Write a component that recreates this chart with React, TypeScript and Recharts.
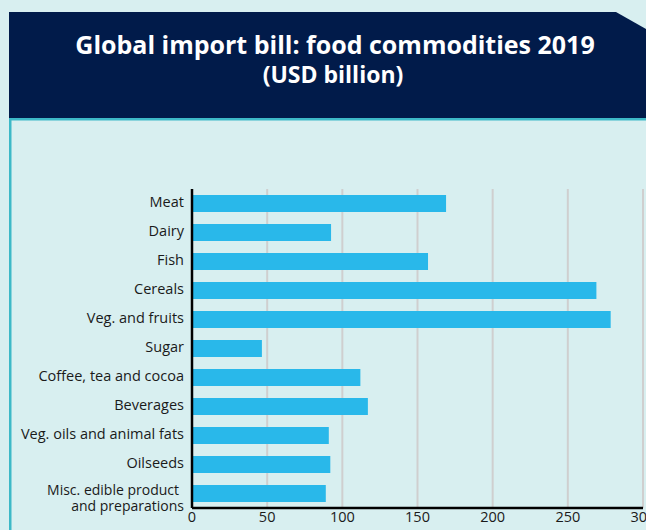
import React from "react";
import { BarChart, Bar, XAxis, YAxis, CartesianGrid } from "recharts";

const categories = [
  "Meat",
  "Dairy",
  "Fish",
  "Cereals",
  "Veg. and fruits",
  "Sugar",
  "Coffee, tea and cocoa",
  "Beverages",
  "Veg. oils and animal fats",
  "Oilseeds",
  "Misc. edible product\nand preparations",
];
const importBill = [169, 92.5, 157, 269, 278.5, 46.5, 112, 117, 91, 92, 89];
const xTicks = [0, 50, 100, 150, 200, 250, 300];

const data = categories.map((name, i) => ({ name, value: importBill[i] }));

const BG = "#D8EFF0";
const NAVY = "#011B4A";
const TEAL = "#3DB9C7";
const BAR = "#29B8EA";
const FONT = "'Open Sans', sans-serif";

const CategoryTick = (props: any) => {
  const { x, y, payload } = props;
  const lines = String(payload.value).split("\n");
  if (lines.length === 1) {
    return (
      <text x={x} y={y} dy={3.5} textAnchor="end" fontSize={14.5} fill="#1a1a1a" fontFamily={FONT}>
        {lines[0]}
      </text>
    );
  }
  // two-line label sits a little low, like the original
  return (
    <text textAnchor="end" fontSize={14} fill="#1a1a1a" fontFamily={FONT}>
      <tspan x={x - 5} y={y + 1}>{lines[0]}</tspan>
      <tspan x={x} y={y + 17.5}>{lines[1]}</tspan>
    </text>
  );
};

export default function App() {
  return (
    <div
      style={{
        position: "absolute",
        left: 0,
        top: 0,
        width: 646,
        height: 530,
        background: BG,
        overflow: "hidden",
        fontFamily: FONT,
      }}
    >
      <svg width={646} height={530} style={{ position: "absolute", left: 0, top: 0 }}>
        <polygon points="9,12 616,12 646,29 646,118 9,118" fill={NAVY} />
        <rect x={9} y={118} width={637} height={2.5} fill={TEAL} />
        <rect x={9} y={118} width={2.5} height={412} fill={TEAL} />
        <text x={335} y={54} textAnchor="middle" fill="#fff" fontFamily={FONT} fontWeight={700} fontSize={25}>
          Global import bill: food commodities 2019
        </text>
        <text x={333} y={83} textAnchor="middle" fill="#fff" fontFamily={FONT} fontWeight={700} fontSize={23}>
          (USD billion)
        </text>
      </svg>
      <div style={{ position: "absolute", left: 0, top: 0 }}>
        <BarChart
          width={646}
          height={530}
          data={data}
          layout="vertical"
          barSize={17}
          barCategoryGap={0}
          margin={{ top: 189, right: 3, bottom: 0, left: 0 }}
        >
          <CartesianGrid horizontal={false} stroke="#cfcfcf" strokeWidth={2} />
          <XAxis
            type="number"
            domain={[0, 300]}
            ticks={xTicks}
            interval={0}
            height={22}
            axisLine={{ stroke: "#000", strokeWidth: 2.5 }}
            tickLine={false}
            tickSize={3}
            tickMargin={1}
            tick={{ fontSize: 14.5, fill: "#1a1a1a", fontFamily: FONT }}
          />
          <YAxis
            type="category"
            dataKey="name"
            width={192}
            axisLine={{ stroke: "#000", strokeWidth: 2.5 }}
            tickLine={false}
            tick={<CategoryTick />}
            interval={0}
          />
          <Bar dataKey="value" fill={BAR} isAnimationActive={false} />
        </BarChart>
      </div>
    </div>
  );
}
